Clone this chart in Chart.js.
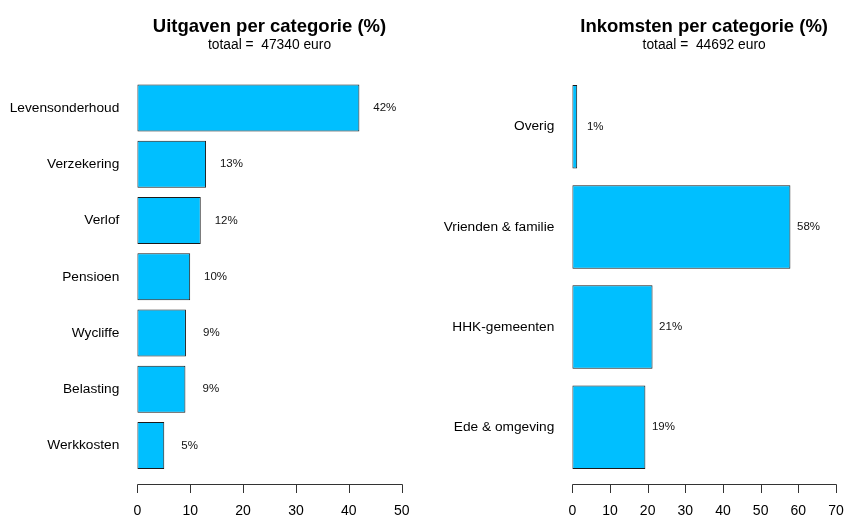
<!DOCTYPE html>
<html>
<head>
<meta charset="utf-8">
<script src="https://cdn.jsdelivr.net/npm/chart.js@4/dist/chart.umd.min.js"></script>
<style>
  body { margin: 0; background: #fff; overflow: hidden; }
  #wrap { position: relative; width: 844px; height: 516px; }
  canvas { position: absolute; top: 0; }
</style>
</head>
<body>
<div id="wrap">
  <canvas id="spend" width="422" height="516" style="left:0"></canvas>
  <canvas id="income" width="422" height="516" style="left:422px"></canvas>
</div>
<script>
// Uitgaven (expenses), percent of total
const spendCategories = ['Levensonderhoud', 'Verzekering', 'Verlof', 'Pensioen', 'Wycliffe', 'Belasting', 'Werkkosten'];
const spendValues = [42.0, 13.0, 12.0, 10.0, 9.2, 9.1, 5.1];
const spendTicks = [0, 10, 20, 30, 40, 50];
const spendTotal = 47340;

// Inkomsten (income), percent of total
const incomeCategories = ['Overig', 'Vrienden & familie', 'HHK-gemeenten', 'Ede & omgeving'];
const incomeValues = [1.3, 57.9, 21.3, 19.4];
const incomeTicks = [0, 10, 20, 30, 40, 50, 60, 70];
const incomeTotal = 44692;

const FONT = "'Liberation Sans', Arial, sans-serif";
const BAR_COLOR = '#00BFFF';

// draws the detached R-style axis, value labels and titles
const decor = {
  id: 'decor',
  afterDraw(chart, args, opts) {
    const ctx = chart.ctx;
    const xs = chart.scales.x;
    const area = chart.chartArea;
    const ticks = opts.ticks;
    ctx.save();

    // axis line + tick marks
    const ay = opts.axisY;
    const px = v => Math.round(xs.getPixelForValue(v)) + 0.5;
    ctx.strokeStyle = '#333';
    ctx.lineWidth = 1;
    ctx.beginPath();
    ctx.moveTo(px(ticks[0]), ay);
    ctx.lineTo(px(ticks[ticks.length - 1]), ay);
    ticks.forEach(t => {
      ctx.moveTo(px(t), ay);
      ctx.lineTo(px(t), ay + 8.5);
    });
    ctx.stroke();

    // percentage next to each bar
    const data = chart.data.datasets[0].data;
    ctx.fillStyle = '#111';
    ctx.font = '11.5px ' + FONT;
    ctx.textAlign = 'center';
    ctx.textBaseline = 'middle';
    chart.getDatasetMeta(0).data.forEach((bar, i) => {
      ctx.fillText(Math.round(data[i]) + '%', xs.getPixelForValue(data[i] + opts.labelOffset), bar.y);
    });

    // title and subtitle
    const cx = (area.left + area.right) / 2;
    ctx.fillStyle = '#000';
    ctx.textBaseline = 'alphabetic';
    ctx.font = 'bold 18.5px ' + FONT;
    ctx.fillText(opts.title, cx, 32);
    ctx.font = '13.8px ' + FONT;
    ctx.fillText(opts.subtitle, cx, 48.7);
    ctx.restore();
  }
};

function makeChart(id, labels, values, ticks, total, title, box) {
  return new Chart(document.getElementById(id), {
    type: 'bar',
    data: {
      labels: labels,
      datasets: [{
        data: values,
        backgroundColor: BAR_COLOR,
        borderColor: '#1a1a1a',
        borderWidth: 1,
        borderSkipped: false,
        categoryPercentage: 1,
        barPercentage: 0.833,
      }]
    },
    options: {
      indexAxis: 'y',
      responsive: false,
      animation: false,
      layout: {
        padding: { left: 0, top: box.top, right: 422 - box.right, bottom: 0 }
      },
      scales: {
        x: {
          min: 0,
          max: ticks[ticks.length - 1],
          afterBuildTicks: s => { s.ticks = ticks.map(v => ({ value: v })); },
          afterFit: s => {
            s.height = 516 - box.bottom;
            s.paddingLeft = 0;
            s.paddingRight = 0;
          },
          grid: { display: false, drawTicks: false },
          border: { display: false },
          ticks: {
            padding: 511 - box.bottom - 8.4,
            color: '#000',
            font: { size: 14, family: FONT },
          },
        },
        y: {
          afterFit: s => { s.width = box.left; },
          grid: { display: false, drawTicks: false },
          border: { display: false },
          ticks: {
            padding: 18,
            color: '#000',
            font: { size: 13.7, family: FONT },
          },
        },
      },
      plugins: {
        legend: { display: false },
        title: { display: false },
        tooltip: { enabled: false },
        decor: {
          ticks: ticks,
          axisY: 484.5,
          labelOffset: 4.8,
          title: title,
          subtitle: 'totaal =  ' + total + ' euro',
        },
      },
    },
    plugins: [decor],
  });
}

makeChart('spend', spendCategories, spendValues, spendTicks, spendTotal,
  'Uitgaven per categorie (%)', { left: 137.3, right: 401.7, top: 79.9, bottom: 473.6 });
makeChart('income', incomeCategories, incomeValues, incomeTicks, incomeTotal,
  'Inkomsten per categorie (%)', { left: 150.3, right: 414, top: 76.6, bottom: 477.4 });
</script>
</body>
</html>
